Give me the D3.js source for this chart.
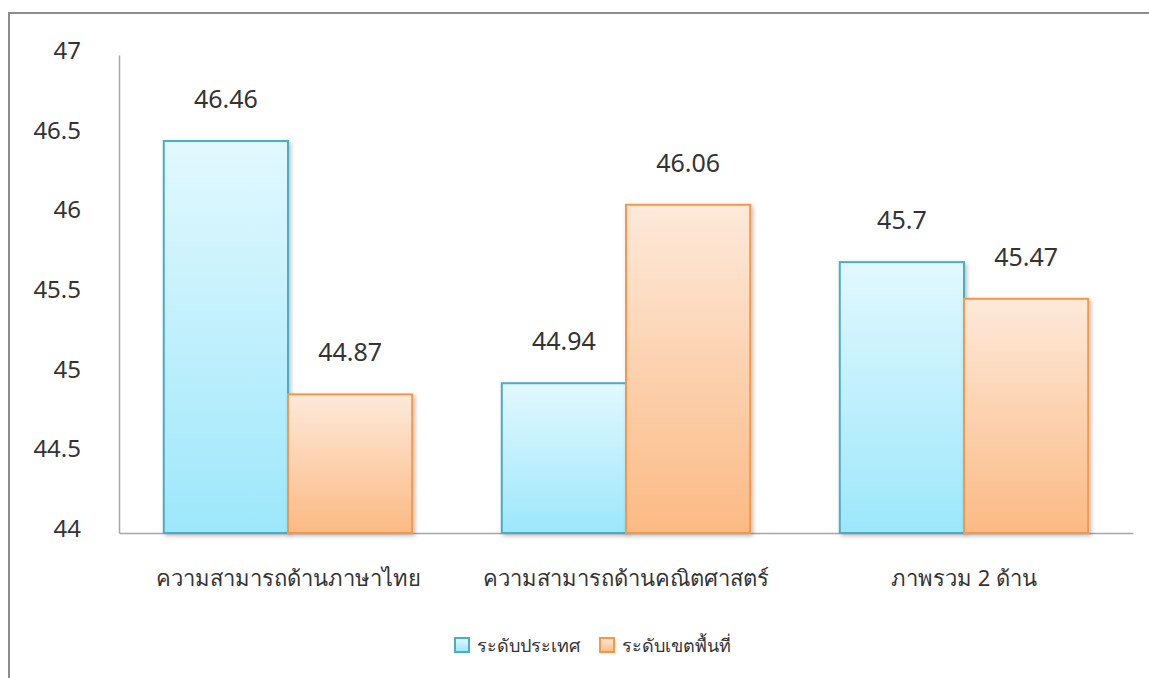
<!DOCTYPE html>
<html>
<head>
<meta charset="utf-8">
<script src="https://cdn.jsdelivr.net/npm/d3@7"></script>
<style>
  body { margin: 0; background: #fff; }
  svg text { font-family: Tahoma, "Noto Sans", "DejaVu Sans", sans-serif; fill: #333; }
</style>
</head>
<body>
<div id="chart"></div>
<script>
const categories = ['ความสามารถด้านภาษาไทย', 'ความสามารถด้านคณิตศาสตร์', 'ภาพรวม 2 ด้าน'];
const seriesNames = ['ระดับประเทศ', 'ระดับเขตพื้นที่'];
const national = [46.46, 44.94, 45.7];
const regional = [44.87, 46.06, 45.47];
const yTicks = [44, 44.5, 45, 45.5, 46, 46.5, 47];

const width = 1149, height = 678;
const margin = { top: 55, right: 16, bottom: 145, left: 119 };

const svg = d3.select('#chart').append('svg')
    .attr('width', width)
    .attr('height', height);

// outer frame (only top and left edges visible)
svg.append('path')
    .attr('d', 'M9,678 V13 H1149')
    .attr('fill', 'none')
    .attr('stroke', '#8c8c8c')
    .attr('stroke-width', 2);

const defs = svg.append('defs');
const grads = [
    { id: 'gBlue', top: '#e2f8fe', bottom: '#9de7fb' },
    { id: 'gOrange', top: '#fde9da', bottom: '#fbba84' }
];
grads.forEach(g => {
    const lg = defs.append('linearGradient').attr('id', g.id)
        .attr('x1', 0).attr('y1', 0).attr('x2', 0).attr('y2', 1);
    lg.append('stop').attr('offset', '0%').attr('stop-color', g.top);
    lg.append('stop').attr('offset', '100%').attr('stop-color', g.bottom);
});
const shadow = defs.append('filter').attr('id', 'shadow')
    .attr('x', '-10%').attr('y', '-10%').attr('width', '130%').attr('height', '130%');
shadow.append('feDropShadow').attr('dx', 2).attr('dy', 2).attr('stdDeviation', 2)
    .attr('flood-color', '#000').attr('flood-opacity', 0.25);

const x0 = d3.scaleBand()
    .domain(categories)
    .range([margin.left, width - margin.right])
    .paddingInner(0.265)
    .paddingOuter(0.1325);

const x1 = d3.scaleBand()
    .domain(seriesNames)
    .range([0, x0.bandwidth()]);

const y = d3.scaleLinear()
    .domain([44, 47])
    .range([height - margin.bottom, margin.top]);

// y axis
const yAxis = svg.append('g')
    .attr('transform', `translate(${margin.left},0)`)
    .call(d3.axisLeft(y).tickValues(yTicks).tickSize(0).tickPadding(38).tickFormat(d => d));
yAxis.select('.domain').attr('stroke', '#a6a6a6').attr('stroke-width', 1.5);
yAxis.selectAll('text')
    .style('font-size', '24px')
    .attr('dy', '0.15em');

// x axis
const xAxis = svg.append('g')
    .attr('transform', `translate(0,${height - margin.bottom})`)
    .call(d3.axisBottom(x0).tickSize(0).tickPadding(37).tickSizeOuter(0));
xAxis.select('.domain').attr('stroke', '#a6a6a6').attr('stroke-width', 1.5);
xAxis.selectAll('text').style('font-size', '22px');

const colors = [
    { fill: 'url(#gBlue)', stroke: '#4bacc6' },
    { fill: 'url(#gOrange)', stroke: '#f79646' }
];
const values = [national, regional];

values.forEach((vals, si) => {
    const g = svg.append('g');
    g.selectAll('rect')
        .data(vals)
        .join('rect')
        .attr('x', (d, i) => x0(categories[i]) + x1(seriesNames[si]))
        .attr('y', d => y(d))
        .attr('width', x1.bandwidth())
        .attr('height', d => y(44) - y(d))
        .attr('fill', colors[si].fill)
        .attr('stroke', colors[si].stroke)
        .attr('stroke-width', 2)
        .attr('filter', 'url(#shadow)');

    g.selectAll('text.val')
        .data(vals)
        .join('text')
        .attr('class', 'val')
        .attr('x', (d, i) => x0(categories[i]) + x1(seriesNames[si]) + x1.bandwidth() / 2)
        .attr('y', d => y(d) - 33)
        .attr('text-anchor', 'middle')
        .style('font-size', '25px')
        .text(d => d);
});

// legend
const legendX = [455, 600];
const legend = svg.append('g');
seriesNames.forEach((name, i) => {
    legend.append('rect')
        .attr('x', legendX[i])
        .attr('y', 638)
        .attr('width', 14)
        .attr('height', 14)
        .attr('fill', colors[i].fill)
        .attr('stroke', colors[i].stroke)
        .attr('stroke-width', 2);
    legend.append('text')
        .attr('x', legendX[i] + 22)
        .attr('y', 652)
        .style('font-size', '18px')
        .text(name);
});
</script>
</body>
</html>
